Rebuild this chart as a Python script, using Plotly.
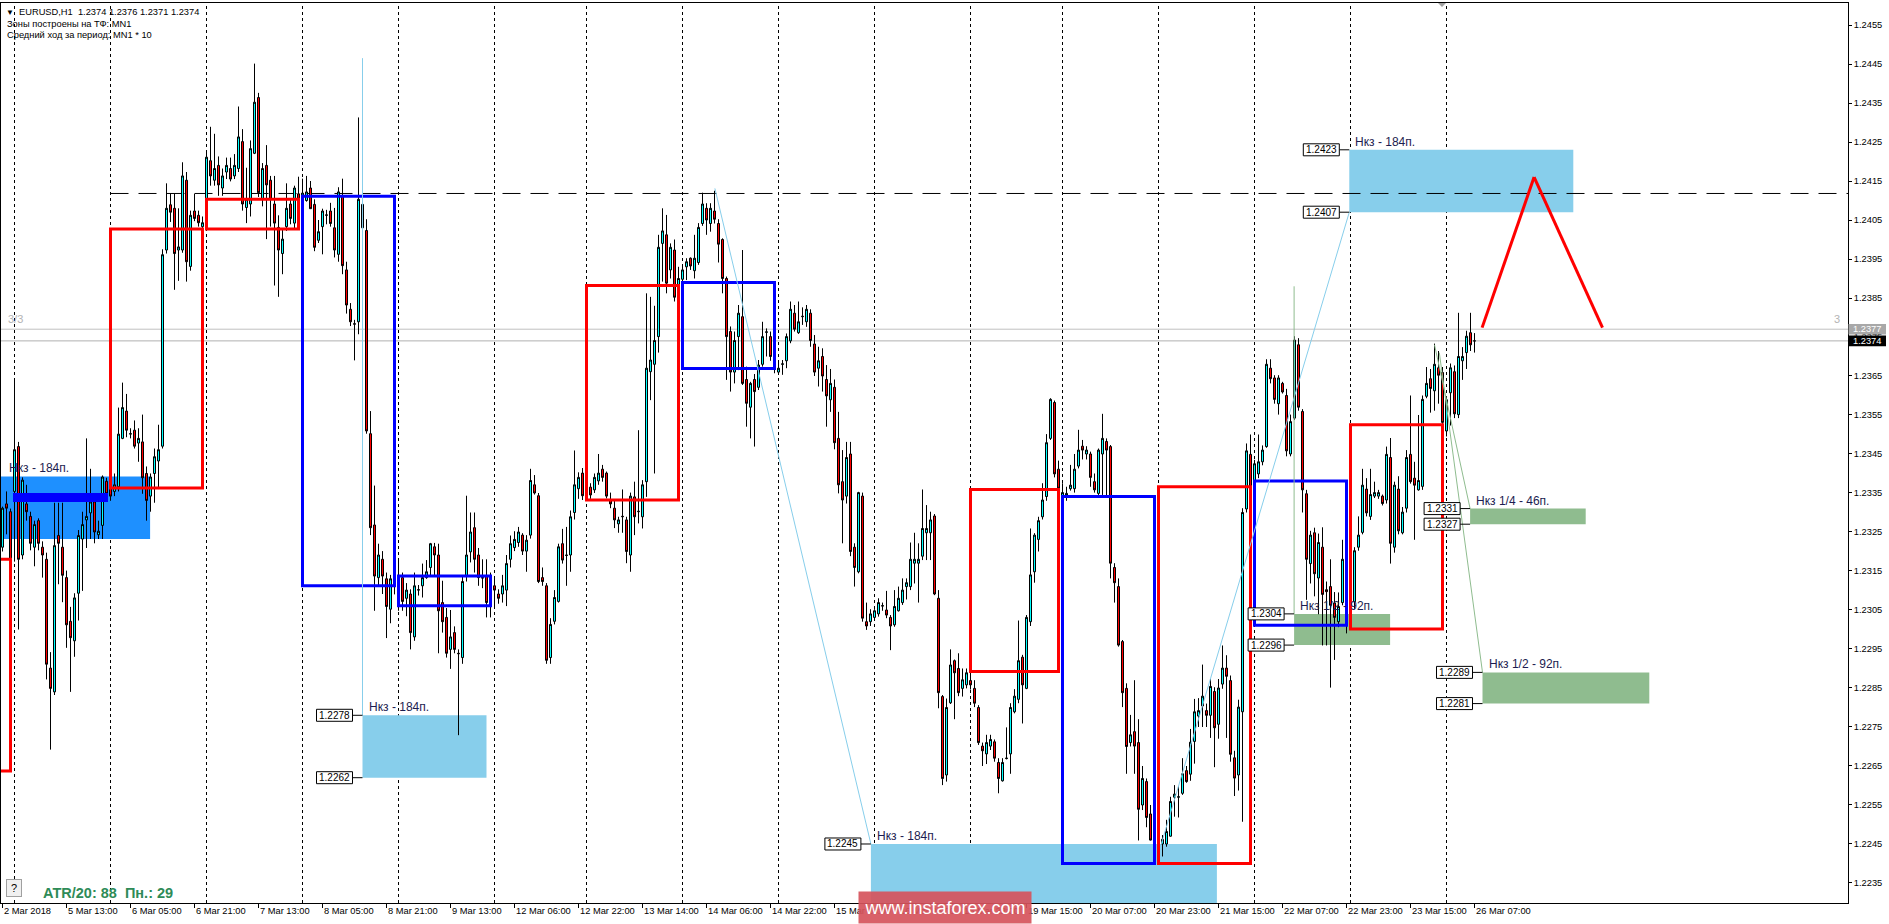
import plotly.graph_objects as go

# ------------------------------------------------------------------ data
# H1 bars, index 0 = 2 Mar 2018 21:00 ... 368 = 26 Mar 07:00
bars = list(range(369))

opens = [
1.23211,1.23322,1.23302,1.23354,1.23469,1.23191,1.23322,1.23290,1.23211,1.23279,
1.23211,1.23180,1.22901,1.22840,1.23241,1.23211,1.23133,1.23021,1.22971,1.23093,
1.23232,1.23281,1.23299,1.23327,1.23243,1.23267,1.23380,1.23366,1.23354,1.23366,
1.23490,1.23560,1.23501,1.23511,1.23478,1.23481,1.23400,1.23342,1.23400,1.23432,
1.23470,1.23973,1.24089,1.24080,1.23973,1.23973,1.24152,1.23931,1.24073,1.24062,
1.24033,1.24033,1.24202,1.24152,1.24190,1.24132,1.24173,1.24182,1.24163,1.24182,
1.24251,1.24082,1.24091,1.24221,1.24364,1.24103,1.24190,1.24152,1.24091,1.24031,
1.23964,1.24033,1.24091,1.24042,1.24117,1.24108,1.24100,1.24132,1.24090,1.23998,
1.24033,1.24062,1.24073,1.24030,1.23962,1.24111,1.23922,1.23821,1.23784,1.23789,
1.24030,1.24023,1.23502,1.23268,1.23133,1.23180,1.23130,1.23052,1.23135,1.23085,
1.23133,1.23080,1.23091,1.22981,1.23101,1.23112,1.23133,1.23159,1.23212,1.23191,
1.23069,1.23031,1.22949,1.22992,1.22939,1.22928,1.23137,1.23199,1.23261,1.23191,
1.23133,1.23137,1.23090,1.23112,1.23091,1.23091,1.23101,1.23180,1.23210,1.23223,
1.23242,1.23201,1.23242,1.23371,1.23343,1.23133,1.23112,1.22928,1.23021,1.23072,
1.23220,1.23191,1.23191,1.23300,1.23361,1.23401,1.23361,1.23365,1.23358,1.23381,
1.23411,1.23401,1.23332,1.23311,1.23271,1.23289,1.23281,1.23191,1.23340,1.23302,
1.23289,1.23379,1.23661,1.23680,1.23751,1.23990,1.24012,1.23922,1.23973,1.23883,
1.23898,1.23930,1.23952,1.23920,1.23941,1.24041,1.24080,1.24041,1.24073,1.24041,
1.24000,1.23900,1.23764,1.23660,1.23751,1.23802,1.23641,1.23570,1.23641,1.23621,
1.23680,1.23762,1.23751,1.23670,1.23660,1.23680,1.23689,1.23740,1.23811,1.23761,
1.23802,1.23789,1.23811,1.23732,1.23670,1.23700,1.23641,1.23589,1.23621,1.23490,
1.23379,1.23342,1.23450,1.23211,1.23148,1.23342,1.23020,1.23020,1.23031,1.23040,
1.23060,1.23050,1.23031,1.23012,1.23048,1.23069,1.23110,1.23110,1.23170,1.23170,
1.23188,1.23248,1.23248,1.23291,1.23080,1.22828,1.22627,1.22812,1.22920,1.22900,
1.22849,1.22858,1.22869,1.22849,1.22800,1.22701,1.22681,1.22701,1.22712,1.22659,
1.22612,1.22669,1.22681,1.22789,1.22821,1.22929,1.22849,1.23020,1.23148,1.23231,
1.23289,1.23341,1.23490,1.23582,1.23411,1.23342,1.23342,1.23361,1.23361,1.23419,
1.23470,1.23450,1.23450,1.23379,1.23349,1.23450,1.23482,1.23469,1.23159,1.23110,
1.22969,1.22849,1.22710,1.22738,1.22710,1.22550,1.22610,1.22527,1.22469,1.22435,
1.22450,1.22450,1.22470,1.22570,1.22570,1.22580,1.22638,1.22629,1.22713,1.22778,
1.22804,1.22792,1.22780,1.22841,1.22757,1.22860,1.22901,1.22869,1.22671,1.22627,
1.22789,1.23309,1.23449,1.23374,1.23399,1.23430,1.23469,1.23670,1.23645,1.23579,
1.23631,1.23600,1.23450,1.23542,1.23730,1.23559,1.23348,1.23169,1.23248,1.23132,
1.23211,1.23102,1.23110,1.23068,1.23020,1.23069,1.23180,1.23070,1.23071,1.23211,
1.23249,1.23360,1.23290,1.23342,1.23342,1.23342,1.23332,1.23441,1.23211,1.23360,
1.23248,1.23311,1.23449,1.23388,1.23358,1.23367,1.23598,1.23643,1.23612,1.23671,
1.23659,1.23509,1.23607,1.23661,1.23551,1.23689,1.23710,1.23761,1.23740]

highs = [
1.23315,1.23354,1.23310,1.23641,1.23481,1.23390,1.23371,1.23302,1.23279,1.23285,
1.23226,1.23197,1.22942,1.23325,1.23325,1.23325,1.23151,1.23058,1.23093,1.23255,
1.23302,1.23490,1.23412,1.23342,1.23279,1.23395,1.23389,1.23375,1.23400,1.23569,
1.23633,1.23604,1.23516,1.23536,1.23516,1.23551,1.23418,1.23400,1.23464,1.23525,
1.23975,1.24144,1.24117,1.24117,1.24080,1.24198,1.24173,1.24074,1.24117,1.24074,
1.24059,1.24225,1.24289,1.24271,1.24213,1.24182,1.24210,1.24210,1.24219,1.24341,
1.24283,1.24184,1.24254,1.24451,1.24376,1.24196,1.24242,1.24163,1.24163,1.24062,
1.24027,1.24144,1.24103,1.24138,1.24161,1.24156,1.24163,1.24150,1.24103,1.24050,
1.24079,1.24076,1.24094,1.24081,1.24134,1.24156,1.23943,1.23837,1.23794,1.24313,
1.24092,1.24052,1.23560,1.23369,1.23220,1.23201,1.23146,1.23140,1.23150,1.23176,
1.23146,1.23119,1.23103,1.23146,1.23114,1.23169,1.23178,1.23222,1.23222,1.23220,
1.23125,1.23055,1.23050,1.23008,1.22949,1.23135,1.23343,1.23300,1.23300,1.23209,
1.23180,1.23180,1.23146,1.23135,1.23103,1.23140,1.23191,1.23241,1.23252,1.23263,
1.23247,1.23242,1.23412,1.23396,1.23350,1.23159,1.23119,1.23029,1.23101,1.23220,
1.23258,1.23263,1.23305,1.23459,1.23403,1.23414,1.23370,1.23375,1.23400,1.23450,
1.23422,1.23405,1.23351,1.23332,1.23289,1.23359,1.23289,1.23351,1.23379,1.23511,
1.23383,1.23862,1.23853,1.23830,1.24012,1.24080,1.24063,1.23990,1.24000,1.23930,
1.23935,1.23952,1.23954,1.24012,1.24042,1.24120,1.24093,1.24093,1.24125,1.24052,
1.24003,1.23905,1.23777,1.23764,1.23832,1.23973,1.23674,1.23635,1.23655,1.23691,
1.23789,1.23772,1.23764,1.23687,1.23691,1.23691,1.23759,1.23841,1.23832,1.23841,
1.23826,1.23832,1.23821,1.23755,1.23725,1.23721,1.23678,1.23668,1.23641,1.23558,
1.23460,1.23481,1.23481,1.23221,1.23353,1.23351,1.23069,1.23052,1.23052,1.23080,
1.23069,1.23099,1.23037,1.23101,1.23110,1.23131,1.23131,1.23223,1.23248,1.23221,
1.23359,1.23319,1.23302,1.23296,1.23101,1.22832,1.22823,1.22949,1.22923,1.22939,
1.22900,1.22900,1.22900,1.22870,1.22806,1.22710,1.22730,1.22730,1.22718,1.22670,
1.22670,1.22749,1.22811,1.22847,1.23023,1.22935,1.23037,1.23259,1.23247,1.23289,
1.23375,1.23501,1.23593,1.23587,1.23433,1.23375,1.23366,1.23422,1.23450,1.23512,
1.23486,1.23470,1.23456,1.23400,1.23464,1.23553,1.23490,1.23473,1.23170,1.23131,
1.22973,1.22862,1.22781,1.22870,1.22770,1.22650,1.22618,1.22550,1.22480,1.22475,
1.22473,1.22512,1.22571,1.22601,1.22599,1.22670,1.22650,1.22745,1.22822,1.22824,
1.22910,1.22810,1.22873,1.22852,1.22873,1.22959,1.22934,1.22882,1.22689,1.22820,
1.23311,1.23477,1.23500,1.23435,1.23500,1.23472,1.23693,1.23693,1.23652,1.23652,
1.23635,1.23617,1.23551,1.23752,1.23747,1.23565,1.23358,1.23253,1.23261,1.23246,
1.23262,1.23123,1.23180,1.23096,1.23095,1.23230,1.23190,1.23100,1.23211,1.23290,
1.23412,1.23388,1.23412,1.23379,1.23358,1.23346,1.23469,1.23491,1.23379,1.23393,
1.23314,1.23460,1.23600,1.23430,1.23550,1.23600,1.23673,1.23668,1.23733,1.23714,
1.23673,1.23598,1.23682,1.23677,1.23812,1.23724,1.23766,1.23812,1.23760]

lows = [
1.23200,1.23244,1.23160,1.23174,1.23000,1.23180,1.23279,1.23203,1.23162,1.23203,
1.23133,1.22872,1.22692,1.22832,1.23116,1.23070,1.22953,1.22840,1.22930,1.23023,
1.23099,1.23209,1.23232,1.23221,1.23232,1.23232,1.23330,1.23330,1.23342,1.23354,
1.23488,1.23493,1.23490,1.23464,1.23430,1.23348,1.23279,1.23302,1.23325,1.23360,
1.23464,1.23964,1.24045,1.23871,1.23894,1.23966,1.23892,1.23920,1.24047,1.24033,
1.24027,1.24031,1.24138,1.24138,1.24112,1.24112,1.24155,1.24149,1.24155,1.24173,
1.24074,1.24042,1.24059,1.24219,1.24109,1.24085,1.24001,1.24033,1.23882,1.23853,
1.23911,1.24022,1.24039,1.24027,1.24090,1.24103,1.24097,1.24079,1.23970,1.23991,
1.23962,1.24039,1.24033,1.23954,1.23943,1.23911,1.23810,1.23778,1.23690,1.23757,
1.24018,1.23502,1.23242,1.23048,1.23113,1.23091,1.22978,1.23016,1.23090,1.23048,
1.23048,1.23034,1.22949,1.22971,1.23087,1.23082,1.23130,1.23138,1.23135,1.22939,
1.22992,1.22928,1.22899,1.22939,1.22729,1.22912,1.23123,1.23172,1.23146,1.23112,
1.23106,1.23031,1.23031,1.23059,1.23066,1.23069,1.23060,1.23159,1.23201,1.23212,
1.23191,1.23148,1.23233,1.23346,1.23119,1.23112,1.22912,1.22912,1.23013,1.23069,
1.23169,1.23112,1.23148,1.23282,1.23335,1.23332,1.23330,1.23335,1.23350,1.23371,
1.23379,1.23336,1.23311,1.23260,1.23248,1.23248,1.23170,1.23148,1.23242,1.23272,
1.23259,1.23340,1.23588,1.23400,1.23710,1.23892,1.23862,1.23900,1.23841,1.23879,
1.23892,1.23896,1.23922,1.23900,1.23935,1.24035,1.24012,1.24020,1.24041,1.23941,
1.23862,1.23640,1.23610,1.23631,1.23665,1.23627,1.23520,1.23490,1.23469,1.23614,
1.23674,1.23700,1.23689,1.23657,1.23653,1.23653,1.23670,1.23734,1.23764,1.23758,
1.23781,1.23776,1.23725,1.23650,1.23623,1.23610,1.23520,1.23558,1.23462,1.23349,
1.23221,1.23323,1.23188,1.23110,1.23144,1.23020,1.22999,1.23009,1.23029,1.23033,
1.23048,1.23029,1.22947,1.23007,1.23046,1.23063,1.23077,1.23101,1.23118,1.23069,
1.23178,1.23178,1.23178,1.23088,1.22798,1.22601,1.22610,1.22809,1.22770,1.22829,
1.22828,1.22849,1.22846,1.22801,1.22704,1.22650,1.22655,1.22691,1.22661,1.22580,
1.22610,1.22667,1.22630,1.22785,1.22811,1.22759,1.22847,1.23009,1.23120,1.23200,
1.23282,1.23330,1.23486,1.23390,1.23356,1.23336,1.23330,1.23356,1.23351,1.23413,
1.23436,1.23436,1.23366,1.23351,1.23345,1.23345,1.23341,1.23131,1.23069,1.22956,
1.22801,1.22630,1.22700,1.22630,1.22459,1.22537,1.22493,1.22459,1.22422,1.22422,
1.22418,1.22443,1.22469,1.22520,1.22518,1.22576,1.22607,1.22612,1.22656,1.22750,
1.22750,1.22750,1.22722,1.22647,1.22720,1.22848,1.22722,1.22661,1.22573,1.22587,
1.22507,1.23300,1.23346,1.23365,1.23388,1.23421,1.23466,1.23631,1.23579,1.23551,
1.23605,1.23444,1.23444,1.23537,1.23561,1.23300,1.23076,1.23118,1.23085,1.23039,
1.22959,1.22959,1.22851,1.22922,1.23006,1.23062,1.22990,1.23000,1.23053,1.23202,
1.23244,1.23290,1.23281,1.23337,1.23335,1.23318,1.23323,1.23169,1.23197,1.23244,
1.23244,1.23300,1.23374,1.23230,1.23356,1.23358,1.23593,1.23556,1.23561,1.23579,
1.23523,1.23495,1.23523,1.23542,1.23542,1.23640,1.23668,1.23714,1.23710]

closes = [
1.23311,1.23311,1.23174,1.23461,1.23180,1.23383,1.23302,1.23221,1.23269,1.23221,
1.23191,1.22911,1.22849,1.23215,1.23221,1.23139,1.23012,1.22979,1.23081,1.23241,
1.23269,1.23290,1.23327,1.23250,1.23252,1.23391,1.23348,1.23342,1.23371,1.23501,
1.23569,1.23511,1.23502,1.23470,1.23490,1.23389,1.23331,1.23391,1.23443,1.23461,
1.23961,1.24080,1.24070,1.23964,1.23981,1.24163,1.23943,1.24062,1.24054,1.24043,
1.24043,1.24211,1.24163,1.24182,1.24140,1.24163,1.24190,1.24155,1.24190,1.24263,
1.24091,1.24103,1.24233,1.24352,1.24120,1.24182,1.24140,1.24103,1.24042,1.23973,
1.24001,1.24080,1.24054,1.24132,1.24103,1.24119,1.24122,1.24079,1.23980,1.24020,
1.24073,1.24063,1.24041,1.23973,1.24122,1.23933,1.23832,1.23789,1.23783,1.24103,
1.24090,1.23509,1.23261,1.23137,1.23191,1.23137,1.23059,1.23130,1.23114,1.23135,
1.23072,1.23101,1.22992,1.23112,1.23102,1.23133,1.23148,1.23220,1.23191,1.23048,
1.23020,1.22939,1.22981,1.22949,1.22938,1.23123,1.23191,1.23250,1.23180,1.23133,
1.23132,1.23069,1.23070,1.23101,1.23080,1.23112,1.23169,1.23220,1.23231,1.23250,
1.23201,1.23229,1.23382,1.23350,1.23123,1.23123,1.22921,1.23013,1.23082,1.23212,
1.23178,1.23190,1.23289,1.23371,1.23390,1.23343,1.23343,1.23345,1.23390,1.23401,
1.23390,1.23342,1.23322,1.23281,1.23281,1.23290,1.23200,1.23342,1.23289,1.23303,
1.23371,1.23670,1.23691,1.23741,1.23980,1.24022,1.23888,1.23980,1.23852,1.23900,
1.23922,1.23943,1.23932,1.23952,1.24031,1.24091,1.24050,1.24080,1.24052,1.23988,
1.23900,1.23751,1.23660,1.23741,1.23811,1.23631,1.23580,1.23631,1.23610,1.23678,
1.23751,1.23763,1.23700,1.23671,1.23670,1.23681,1.23751,1.23821,1.23770,1.23789,
1.23803,1.23821,1.23741,1.23660,1.23689,1.23650,1.23599,1.23631,1.23479,1.23371,
1.23332,1.23441,1.23200,1.23159,1.23351,1.23029,1.23009,1.23040,1.23048,1.23069,
1.23061,1.23037,1.23009,1.23059,1.23080,1.23101,1.23120,1.23180,1.23180,1.23180,
1.23259,1.23259,1.23281,1.23091,1.22838,1.22618,1.22800,1.22909,1.22889,1.22838,
1.22871,1.22889,1.22858,1.22811,1.22710,1.22689,1.22710,1.22718,1.22670,1.22618,
1.22659,1.22670,1.22800,1.22829,1.22920,1.22858,1.23031,1.23140,1.23242,1.23279,
1.23332,1.23479,1.23590,1.23399,1.23362,1.23351,1.23349,1.23370,1.23411,1.23460,
1.23460,1.23460,1.23390,1.23358,1.23460,1.23490,1.23460,1.23170,1.23120,1.22960,
1.22838,1.22700,1.22730,1.22701,1.22539,1.22618,1.22518,1.22460,1.22443,1.22456,
1.22462,1.22482,1.22559,1.22578,1.22571,1.22630,1.22610,1.22711,1.22789,1.22792,
1.22829,1.22780,1.22854,1.22748,1.22850,1.22901,1.22880,1.22680,1.22619,1.22801,
1.23300,1.23458,1.23365,1.23425,1.23430,1.23460,1.23680,1.23643,1.23590,1.23645,
1.23609,1.23458,1.23533,1.23742,1.23570,1.23358,1.23180,1.23242,1.23143,1.23223,
1.23090,1.23097,1.23062,1.23031,1.23059,1.23180,1.23071,1.23071,1.23202,1.23242,
1.23370,1.23299,1.23346,1.23351,1.23351,1.23323,1.23449,1.23221,1.23370,1.23253,
1.23301,1.23441,1.23379,1.23370,1.23382,1.23590,1.23631,1.23618,1.23680,1.23652,
1.23531,1.23589,1.23671,1.23553,1.23700,1.23700,1.23752,1.23730,1.23740]

# time axis labels (every 16 bars) and day separators (first bar of each day)
label_bars = list(range(0, 369, 16))
label_text = ["2 Mar 2018", "5 Mar 13:00", "6 Mar 05:00", "6 Mar 21:00", "7 Mar 13:00",
              "8 Mar 05:00", "8 Mar 21:00", "9 Mar 13:00", "12 Mar 06:00", "12 Mar 22:00",
              "13 Mar 14:00", "14 Mar 06:00", "14 Mar 22:00", "15 Mar 14:00", "16 Mar 06:00",
              "16 Mar 22:00", "19 Mar 15:00", "20 Mar 07:00", "20 Mar 23:00", "21 Mar 15:00",
              "22 Mar 07:00", "22 Mar 23:00", "23 Mar 15:00", "26 Mar 07:00"]
day_start_bars = [3, 27, 51, 75, 99, 123, 146, 170, 194, 218, 242, 265, 289, 313, 337, 361]

price_ticks = [round(1.2235 + 0.001 * k, 4) for k in range(23)]

# daily body boxes: (first bar, last bar, low, high)
bull_days = [(-6, 2, 1.22637, 1.23180), (27, 50, 1.23363, 1.24027), (51, 74, 1.24027, 1.24103),
             (146, 169, 1.23332, 1.23882), (242, 264, 1.22892, 1.23359),
             (289, 312, 1.22400, 1.23366), (337, 360, 1.23001, 1.23525)]
bear_days = [(75, 98, 1.23112, 1.24111), (99, 122, 1.23061, 1.23137), (170, 193, 1.23669, 1.23890),
             (265, 288, 1.22400, 1.23341), (313, 336, 1.23011, 1.23381)]
flat_day = (3, 26, 1.23331, 1.23346)

# target zones: (left bar, right bar, low, high, label, colour)
zones = [
    (-3.0, 36.9, 1.23232, 1.23392, "Нкз - 184п.", "#1E90FF"),
    (90.0, 121.0, 1.2262, 1.2278, "Нкз - 184п.", "#87CEEB"),
    (217.1, 303.6, 1.2229, 1.2245, "Нкз - 184п.", "#87CEEB"),
    (336.7, 392.7, 1.2407, 1.2423, "Нкз - 184п.", "#87CEEB"),
    (322.9, 346.9, 1.2296, 1.2304, "Нкз 1/2 - 92п.", "#8FBC8F"),
    (366.9, 395.8, 1.2327, 1.2331, "Нкз 1/4 - 46п.", "#8FBC8F"),
    (370.0, 411.7, 1.2281, 1.2289, "Нкз 1/2 - 92п.", "#8FBC8F"),
]

# thin trend lines: (bar0, price0, bar1, price1, colour)
trend_lines = [
    (90.0, 1.24465, 90.0, 1.2278, "#87CEEB"),
    (178.1, 1.24131, 217.1, 1.2245, "#87CEEB"),
    (289.7, 1.2245, 336.7, 1.2407, "#87CEEB"),
    (322.9, 1.2388, 322.9, 1.2304, "#8FBC8F"),
    (358.0, 1.2373, 366.9, 1.2331, "#8FBC8F"),
    (359.2, 1.2371, 370.0, 1.2289, "#8FBC8F"),
]
forecast_bars = [369.9, 382.9, 400.0]
forecast_prices = [1.23774, 1.24160, 1.23774]

level_price = 1.24118
ask_price, bid_price = 1.2377, 1.2374

# ------------------------------------------------------------------ layout geometry
W, H = 1889, 924
ML, MR, MT, MB = 1, 41, 3, 21
PW, PH = W - ML - MR, H - MT - MB
X0, X1 = -0.375, 461.375
Y0, Y1 = 1.222987, 1.246064
FONT = "Liberation Sans, Arial, sans-serif"


def px(xf):
    return (xf - ML) / PW


def py(yf):
    return (H - MB - yf) / PH


def yf_of(p):
    return MT + (Y1 - p) / (Y1 - Y0) * PH


highs = [max(h, o, c) for h, o, c in zip(highs, opens, closes)]
lows = [min(l, o, c) for l, o, c in zip(lows, opens, closes)]

fig = go.Figure()
fig.add_trace(go.Candlestick(
    x=bars, open=opens, high=highs, low=lows, close=closes,
    increasing=dict(fillcolor="#00FFFF", line=dict(color="black", width=1)),
    decreasing=dict(fillcolor="#FF0000", line=dict(color="black", width=1)),
    whiskerwidth=0, hoverinfo="skip", showlegend=False))

shapes = []
annos = []

# zones (background)
for (xa, xb, lo, hi, txt, col) in zones:
    shapes.append(dict(type="rect", xref="x", yref="y", x0=xa, x1=xb, y0=lo, y1=hi,
                       fillcolor=col, line=dict(width=0), layer="below"))

# day separators
for d in day_start_bars:
    shapes.append(dict(type="line", xref="x", yref="paper", x0=d, x1=d, y0=0, y1=1,
                       line=dict(color="black", width=1, dash="3px,3px"), layer="below"))

# ask / bid lines
shapes.append(dict(type="line", xref="paper", yref="y", x0=0, x1=1, y0=ask_price, y1=ask_price,
                   line=dict(color="#C0C0C0", width=1), layer="below"))
shapes.append(dict(type="line", xref="paper", yref="y", x0=0, x1=1, y0=bid_price, y1=bid_price,
                   line=dict(color="#B0B0B0", width=1), layer="below"))

# long dashed level
shapes.append(dict(type="line", xref="x", yref="y", x0=27, x1=X1, y0=level_price, y1=level_price,
                   line=dict(color="black", width=1, dash="18px,10px"), layer="below"))

# daily body boxes
for (a, b, lo, hi) in bull_days:
    shapes.append(dict(type="rect", xref="x", yref="y", x0=a, x1=b, y0=lo, y1=hi,
                       line=dict(color="#FF0000", width=3), layer="above"))
for (a, b, lo, hi) in bear_days:
    shapes.append(dict(type="rect", xref="x", yref="y", x0=a, x1=b, y0=lo, y1=hi,
                       line=dict(color="#0000FF", width=3), layer="above"))
a, b, lo, hi = flat_day
shapes.append(dict(type="rect", xref="x", yref="y", x0=a, x1=b, y0=lo, y1=hi,
                   fillcolor="#0000FF", line=dict(color="#0000FF", width=3), layer="above"))

# trend lines
for (b0, p0, b1, p1, col) in trend_lines:
    shapes.append(dict(type="line", xref="x", yref="y", x0=b0, x1=b1, y0=p0, y1=p1,
                       line=dict(color=col, width=1), layer="above"))

# forecast path
for k in range(len(forecast_bars) - 1):
    shapes.append(dict(type="line", xref="x", yref="y",
                       x0=forecast_bars[k], x1=forecast_bars[k + 1],
                       y0=forecast_prices[k], y1=forecast_prices[k + 1],
                       line=dict(color="#FF0000", width=3), layer="above"))

# zone texts and price tags (only tags whose level lies inside the visible range)
for zi, (xa, xb, lo, hi, txt, col) in enumerate(zones):
    if zi == 0:
        annos.append(dict(x=px(7), xref="paper", y=hi, yref="y", text=txt, showarrow=False,
                          xanchor="left", yanchor="bottom", yshift=0,
                          font=dict(family=FONT, size=12, color="#1C1C50")))
        continue
    annos.append(dict(x=xa, xref="x", y=hi, yref="y", text=txt, showarrow=False,
                      xanchor="left", yanchor="bottom", xshift=4, yshift=-1,
                      font=dict(family=FONT, size=12, color="#1C1C50")))
    for p in (hi, lo):
        if p < Y0 + 0.0002:
            continue
        shapes.append(dict(type="line", xref="x", yref="y", x0=xa - 2.5, x1=xa, y0=p, y1=p,
                           line=dict(color="black", width=1), layer="above"))
        shapes.append(dict(type="rect", xref="x", yref="y", xsizemode="pixel", ysizemode="pixel",
                           xanchor=xa, yanchor=p, x0=-46, x1=-10, y0=-6, y1=6,
                           fillcolor="white", line=dict(color="black", width=1), layer="above"))
        annos.append(dict(x=xa, xref="x", y=p, yref="y", text="%.4f" % p, showarrow=False,
                          xanchor="center", yanchor="middle", xshift=-28,
                          font=dict(family=FONT, size=10, color="black")))

# bottom date labels
for bi, t in zip(label_bars, label_text):
    annos.append(dict(x=bi, xref="x", y=0, yref="paper", text=t, showarrow=False,
                      xanchor="left", yanchor="top", xshift=-1, yshift=-1,
                      font=dict(family=FONT, size=9.3, color="black")))

# current price tags on the price scale
for p, bg in ((ask_price, "#A8A8A8"), (bid_price, "#000000")):
    yc = yf_of(p)
    shapes.append(dict(type="rect", xref="paper", yref="paper", x0=px(1848.5), x1=px(1886),
                       y0=py(yc + 5.3), y1=py(yc - 5.3), fillcolor=bg, line=dict(width=0),
                       layer="above"))
    annos.append(dict(x=px(1851), xref="paper", y=py(yc), yref="paper", text="%.4f" % p,
                      showarrow=False, xanchor="left", yanchor="middle",
                      font=dict(family=FONT, size=9.3, color="white")))

# chart shift marker
shapes.append(dict(type="path", xref="paper", yref="paper",
                   path="M %f,%f L %f,%f L %f,%f Z" % (px(1438), py(3), px(1446), py(3), px(1442), py(7)),
                   fillcolor="#A0A0A0", line=dict(width=0), layer="above"))

# header texts
annos.append(dict(x=px(4), xref="paper", y=py(12.5), yref="paper", text="▼", showarrow=False,
                  xanchor="left", yanchor="middle", font=dict(family=FONT, size=8, color="black")))
annos.append(dict(x=px(17), xref="paper", y=py(12.5), yref="paper",
                  text="EURUSD,H1\u00a0\u00a01.2374 1.2376 1.2371 1.2374", showarrow=False,
                  xanchor="left", yanchor="middle", font=dict(family=FONT, size=9.3, color="black")))
annos.append(dict(x=px(5), xref="paper", y=py(24.3), yref="paper",
                  text="Зоны построены на ТФ: MN1", showarrow=False,
                  xanchor="left", yanchor="middle",
                  font=dict(family=FONT, size=9.3, color="black")))
annos.append(dict(x=px(5), xref="paper", y=py(35.5), yref="paper",
                  text="Средний ход за период: MN1 * 10", showarrow=False,
                  xanchor="left", yanchor="middle",
                  font=dict(family=FONT, size=9.3, color="black")))
annos.append(dict(x=px(6), xref="paper", y=py(319), yref="paper", text="3/3", showarrow=False,
                  xanchor="left", yanchor="middle", font=dict(family=FONT, size=11, color="#B4B4B4")))
annos.append(dict(x=px(1832), xref="paper", y=py(319), yref="paper", text="3", showarrow=False,
                  xanchor="left", yanchor="middle", font=dict(family=FONT, size=11, color="#B4B4B4")))

# help button and ATR text
annos.append(dict(x=px(6), xref="paper", y=py(879), yref="paper", text="?", showarrow=False,
                  xanchor="left", yanchor="top", width=14, height=16, bgcolor="#F0F0F0",
                  bordercolor="#A0A0A0", borderwidth=1, borderpad=0,
                  font=dict(family=FONT, size=11, color="black")))
annos.append(dict(x=px(41), xref="paper", y=py(893), yref="paper",
                  text="<b>ATR/20: 88\u00a0\u00a0Пн.: 29</b>", showarrow=False,
                  xanchor="left", yanchor="middle", font=dict(family=FONT, size=14.5, color="#2E8B57")))

# watermark
annos.append(dict(x=px(858), xref="paper", y=py(891), yref="paper", text="www.instaforex.com",
                  showarrow=False, xanchor="left", yanchor="top", width=170, height=29,
                  bgcolor="rgba(214,84,92,0.92)", borderpad=1,
                  font=dict(family=FONT, size=18, color="white")))

fig.update_layout(
    width=W, height=H, margin=dict(l=ML, r=MR, t=MT, b=MB, pad=0),
    paper_bgcolor="white", plot_bgcolor="white", showlegend=False,
    boxgap=0.5, boxgroupgap=0,
    shapes=shapes, annotations=annos, hovermode=False,
    xaxis=dict(range=[X0, X1], showgrid=False, zeroline=False, showline=True, mirror=True,
               linecolor="black", linewidth=1, ticks="outside", tickvals=label_bars, ticklen=4,
               tickcolor="black", showticklabels=False, rangeslider=dict(visible=False),
               fixedrange=True),
    yaxis=dict(range=[Y0, Y1], side="right", showgrid=False, zeroline=False, showline=True,
               mirror=True, linecolor="black", linewidth=1, ticks="outside", ticklen=3,
               tickcolor="black", tickvals=price_ticks, ticktext=["%.4f" % v for v in price_ticks],
               tickfont=dict(family=FONT, size=9.3, color="black"), fixedrange=True),
)

fig.write_html("out.html", config={"displayModeBar": False},
               post_script="document.body.style.margin='0';document.body.style.padding='0';"
                           "document.body.style.overflow='hidden';"
                           "document.documentElement.style.overflow='hidden';")
